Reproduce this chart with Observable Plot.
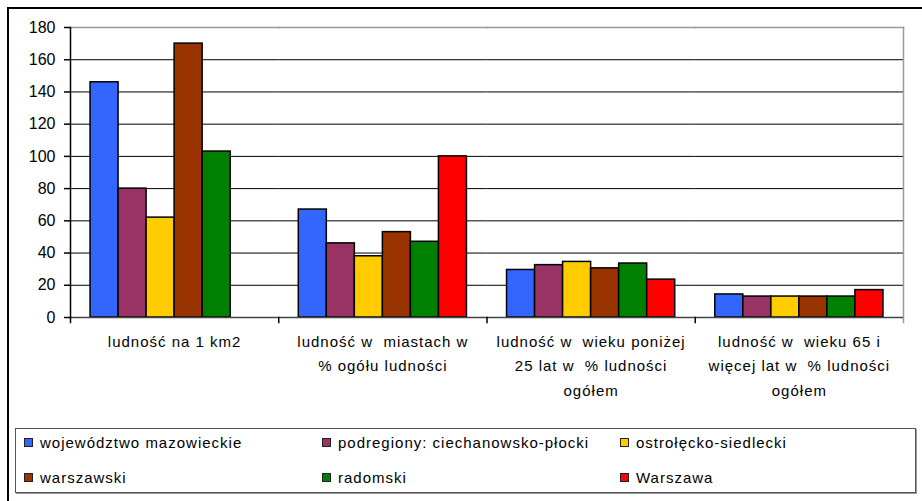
<!DOCTYPE html>
<html>
<head>
<meta charset="utf-8">
<script src="https://cdn.jsdelivr.net/npm/d3@7"></script>
<script src="https://cdn.jsdelivr.net/npm/@observablehq/plot@0.6"></script>
<style>
  html, body { margin: 0; padding: 0; background: #fff; overflow: hidden; width: 922px; height: 501px; }
  body { position: relative; font-family: "Liberation Sans", Arial, sans-serif; }
  #frame { position: absolute; left: 7px; top: 7px; width: 1000px; height: 1000px; border: 2px solid #000; box-sizing: border-box; }
  #chart { position: absolute; left: 0; top: 0; }
  #chart [aria-label="fx-axis tick label"] text { letter-spacing: 1px; }
  #legend { position: absolute; left: 15px; top: 428px; width: 901px; height: 65px; box-sizing: border-box;
            border: 1.5px solid #555; box-shadow: 1px 1px 0 #999; background: #fff; }
  .item { position: absolute; font-size: 15px; letter-spacing: 1px; color: #000; white-space: nowrap; line-height: 18px; }
  .sw { position: absolute; left: 0; top: 4px; width: 9px; height: 9px; border: 1px solid #222; box-sizing: border-box; }
  .item span.t { position: absolute; left: 16px; top: 0; }
</style>
</head>
<body>
<div id="frame"></div>
<div id="chart"></div>
<div id="legend"></div>
<script>
// Categories (groups along the x axis)
const groups = [
  "ludność na 1 km2",
  "ludność w miastach w % ogółu ludności",
  "ludność w wieku poniżej 25 lat w % ludności ogółem",
  "ludność w wieku 65 i więcej lat w % ludności ogółem"
];
// Tick labels as shown (wrapped lines)
const groupTickLabels = [
  "ludność na 1 km2",
  "ludność w  miastach w\n% ogółu ludności",
  "ludność w  wieku poniżej\n25 lat w  % ludności\nogółem",
  "ludność w  wieku 65 i\nwięcej lat w  % ludności\nogółem"
];
// Series names
const seriesNames = [
  "województwo mazowieckie",
  "podregiony: ciechanowsko-płocki",
  "ostrołęcko-siedlecki",
  "warszawski",
  "radomski",
  "Warszawa"
];
const seriesColors = ["#3366FF", "#993366", "#FFCC00", "#993300", "#008000", "#FF0000"];
// Series values (one per group)
const wojewodztwo = [146, 67, 29.5, 14.3];
const ciechanowskoPlocki = [80, 46, 32.5, 13];
const ostroleckoSiedlecki = [62, 38, 34.5, 13];
const warszawski = [170, 53, 30.5, 13];
const radomski = [103, 47, 33.5, 13];
const warszawa = [null, 100, 23.5, 17];
const yTicks = [0, 20, 40, 60, 80, 100, 120, 140, 160, 180];

const seriesValues = [wojewodztwo, ciechanowskoPlocki, ostroleckoSiedlecki, warszawski, radomski, warszawa];
const data = [];
seriesNames.forEach((s, si) => {
  groups.forEach((g, gi) => {
    const v = seriesValues[si][gi];
    if (v != null) data.push({group: g, series: s, value: v});
  });
});
const tickLabelMap = new Map(groups.map((g, i) => [g, groupTickLabels[i]]));

const W = 922, H = 420, mTop = 27, mBottom = H - 317;
const plotH = H - mTop - mBottom;

const chart = Plot.plot({
  width: W,
  height: H,
  marginLeft: 70,
  marginRight: 19,
  marginTop: mTop,
  marginBottom: mBottom,
  style: {fontFamily: "'Liberation Sans', Arial, sans-serif", fontSize: "15px", color: "#000", background: "transparent"},
  fx: {domain: groups, padding: 0, round: false, axis: null},
  x: {domain: seriesNames, paddingInner: 0, paddingOuter: 0.715, round: false, axis: null},
  y: {domain: [0, 180], axis: null},
  color: {domain: seriesNames, range: seriesColors},
  marks: [
    Plot.gridY(yTicks.filter(d => d > 0 && d < 180), {stroke: "#000", strokeOpacity: 1, strokeWidth: 1}),
    Plot.frame({anchor: "top", stroke: "#999", strokeWidth: 1.5}),
    Plot.frame({anchor: "right", facetAnchor: "right", stroke: "#999", strokeWidth: 1.5, insetBottom: -5}),
    Plot.barY(data, {fx: "group", x: "series", y: "value", fill: "series", stroke: "#000", strokeWidth: 1.5, insetLeft: 0, insetRight: 0}),
    Plot.ruleY([0], {stroke: "#444", strokeWidth: 1.5}),
    Plot.frame({anchor: "left", stroke: "#000", strokeWidth: 1.5, insetTop: plotH, insetBottom: -5}),
    Plot.frame({anchor: "left", facetAnchor: "left", stroke: "#000", strokeWidth: 1.5}),
    Plot.axisY({ticks: yTicks, tickSize: 6, tickPadding: 9, fontSize: 16, label: null, stroke: "#000", strokeWidth: 1.5}),
    Plot.axisFx({anchor: "bottom", label: null, tickSize: 0, tickPadding: 12, fontSize: 15, lineHeight: 1.63,
                 tickFormat: d => tickLabelMap.get(d)})
  ]
});
document.getElementById("chart").appendChild(chart);

// Legend
const legend = document.getElementById("legend");
const colX = [8, 306, 604];
const rowY = [5, 40];
seriesNames.forEach((s, i) => {
  const col = i % 3, row = Math.floor(i / 3);
  const item = document.createElement("div");
  item.className = "item";
  item.style.left = colX[col] + "px";
  item.style.top = rowY[row] + "px";
  const sw = document.createElement("div");
  sw.className = "sw";
  sw.style.background = seriesColors[i];
  const t = document.createElement("span");
  t.className = "t";
  t.textContent = s;
  item.appendChild(sw);
  item.appendChild(t);
  legend.appendChild(item);
});
</script>
</body>
</html>
